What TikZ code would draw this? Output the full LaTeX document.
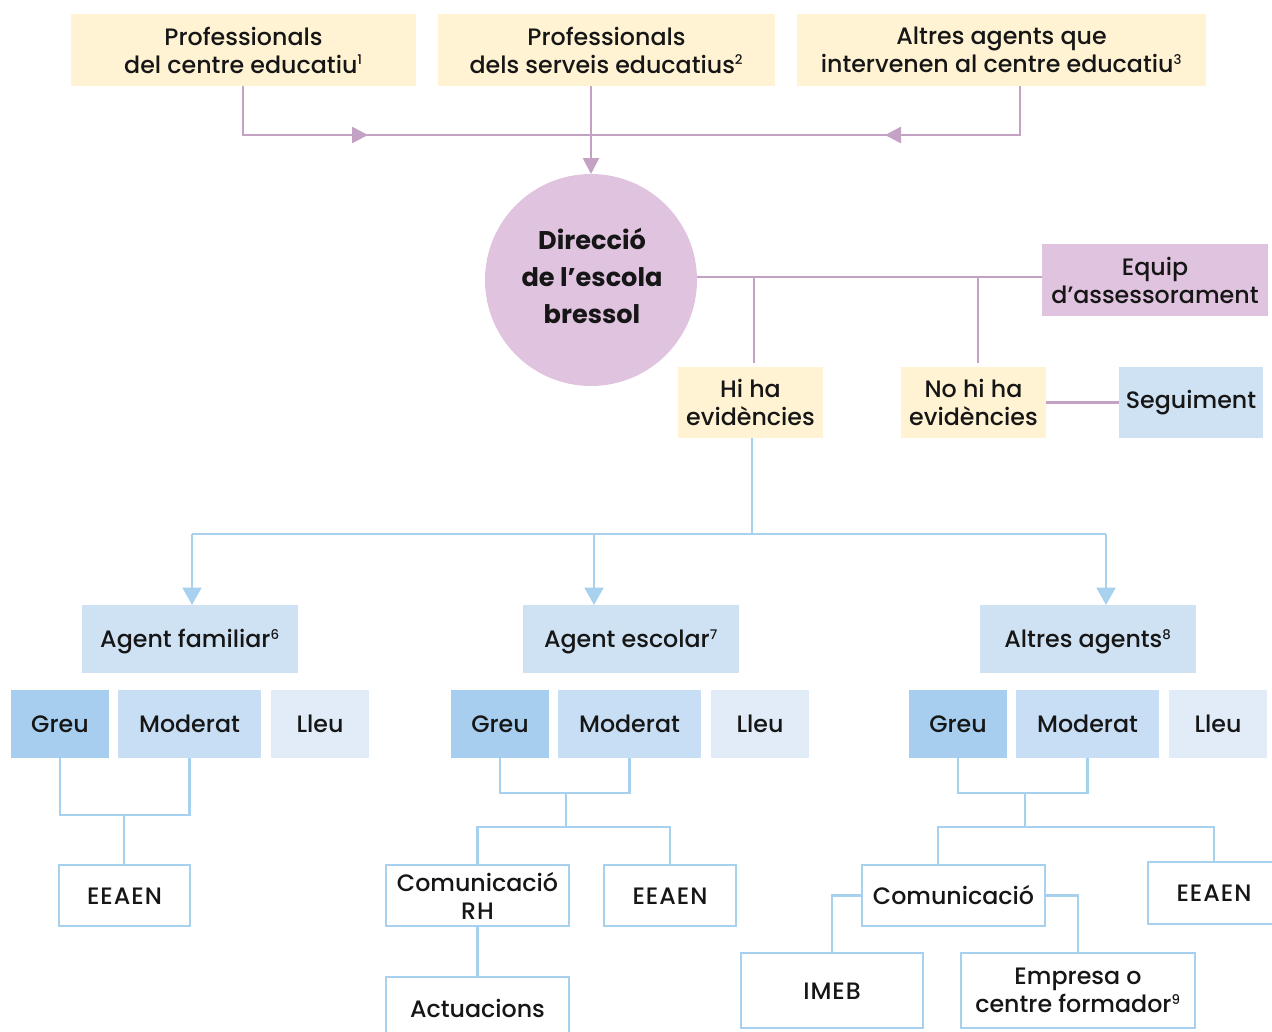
\documentclass[tikz,border=0pt]{standalone}
\usepackage{fontspec}
\setmainfont{Poppins}[UprightFont={* Medium}, BoldFont={* Bold}]
\usetikzlibrary{arrows.meta}
\definecolor{yel}{HTML}{FFF3D4}
\definecolor{lil}{HTML}{DFC3DF}
\definecolor{lilline}{HTML}{C4A2C3}
\definecolor{bl}{HTML}{CFE2F3}
\definecolor{bline}{HTML}{A8D0EF}
\definecolor{gr}{HTML}{A7CEEE}
\definecolor{md}{HTML}{C8DEF4}
\definecolor{lw}{HTML}{E1ECF8}
\definecolor{txt}{HTML}{161616}
\tikzset{
  bx/.style 2 args={minimum width=#1*0.75pt, minimum height=#2*0.75pt},
  base/.style={inner sep=0pt, outer sep=0pt, align=center, text=txt,
    font=\fontsize{17.8}{21}\selectfont},
  yelbox/.style={base, fill=yel},
  lilbox/.style={base, fill=lil},
  blbox/.style={base, fill=bl},
  greubox/.style={base, fill=gr},
  modbox/.style={base, fill=md},
  lleubox/.style={base, fill=lw},
  whbox/.style={base, fill=white, draw=bline, line width=1.9pt},
  lline/.style={draw=lilline, line width=2pt},
  bwire/.style={draw=bline, line width=1.9pt},
  ltip/.style={-{Triangle[length=12pt,width=12pt]}},
}
\newcommand{\supr}[1]{\textsuperscript{\fontsize{10}{10}\selectfont #1}}
\newcommand{\low}[1]{\smash{\raisebox{-6.6pt}{#1}}}
\newcommand{\wide}[1]{{\addfontfeature{LetterSpace=4}#1}}
\begin{document}
\begin{tikzpicture}[x=0.75pt,y=-0.75pt]
\useasboundingbox (0,0) rectangle (1272,1032);
% top boxes
\node[yelbox, bx={345}{72}] (p1) at (243.5,50) {Professionals\\del centre educatiu\supr{1}};
\node[yelbox, bx={337}{72}] (p2) at (606.5,50) {Professionals\\dels serveis educatius\supr{2}};
\node[yelbox, bx={409}{72}] (p3) at (1001.5,50) {Altres agents que\\intervenen al centre educatiu\supr{3}};
% circle
\node[base, circle, fill=lil, minimum size=212*0.75pt] (circ) at (591,280) {};
\node[base, font=\fontsize{19.2}{28}\selectfont\bfseries] (circt) at (592,276) {Direcció\\de l’escola\\bressol};
\node[lilbox, bx={226}{72}] (eq) at (1155,280) {Equip\\d’assessorament};
\node[yelbox, bx={145}{71}] (hi) at (750.5,402.5) {Hi ha\\evidències};
\node[yelbox, bx={145}{71}] (no) at (973.5,402.5) {No hi ha\\evidències};
\node[blbox, bx={144}{71}] (seg) at (1191,402.5) {Seguiment};
% agents
\node[blbox, bx={216}{68}] (af) at (190,639) {\low{Agent familiar\supr{6}}};
\node[blbox, bx={216}{68}] (ae) at (631,639) {\low{Agent escolar\supr{7}}};
\node[blbox, bx={216}{68}] (aa) at (1088,639) {\low{Altres agents\supr{8}}};
% severity
\node[greubox, bx={98}{68}] (g1) at (60,724) {\low{Greu}};
\node[modbox, bx={143}{68}] (m1) at (189.5,724) {\low{Moderat}};
\node[lleubox, bx={98}{68}] (l1) at (320,724) {\low{Lleu}};
\node[greubox, bx={98}{68}] (g2) at (500,724) {\low{Greu}};
\node[modbox, bx={143}{68}] (m2) at (629.5,724) {\low{Moderat}};
\node[lleubox, bx={98}{68}] (l2) at (760,724) {\low{Lleu}};
\node[greubox, bx={98}{68}] (g3) at (958,724) {\low{Greu}};
\node[modbox, bx={143}{68}] (m3) at (1087.5,724) {\low{Moderat}};
\node[lleubox, bx={98}{68}] (l3) at (1218,724) {\low{Lleu}};
% outcomes
\node[whbox, bx={131}{61}] (e1) at (124.5,895.5) {\low{\wide{EEAEN}}};
\node[whbox, bx={183}{61}] (c2) at (477.5,895.5) {Comunicació\\\wide{RH}};
\node[whbox, bx={132}{61}] (e2) at (670,895.5) {\low{\wide{EEAEN}}};
\node[whbox, bx={183}{63}] (act) at (477.5,1008.5) {\low{Actuacions}};
\node[whbox, bx={183}{61}] (c3) at (953.5,895.5) {\low{Comunicació}};
\node[whbox, bx={132}{62}] (e3) at (1214,893) {\low{\wide{EEAEN}}};
\node[whbox, bx={182}{75}] (imeb) at (832,990.5) {\low{\wide{IMEB}}};
\node[whbox, bx={234}{75}] (emp) at (1078,990.5) {Empresa o\\centre formador\supr{9}};
% top connectors
\coordinate (t1) at (243,135);
\coordinate (a1) at (368,135);
\coordinate (a3) at (885,135);
\coordinate (t3) at (1020,135);
\coordinate (x3) at (1020,0);
\draw[lline] (p1.south -| t1) -- (t1) -- (a1) -- (a3) -- (t3) -- (x3 |- p3.south);
\draw[lline, ltip] (t1) -- (a1);
\draw[lline, ltip] (t3) -- (a3);
\draw[lline, ltip] (circ |- p2.south) -- (circ.north);
% circle to equip and branches
\coordinate (h1) at (754,277);
\coordinate (h2) at (978,277);
\draw[lline] (circ.east |- h1) -- (eq.west |- h1);
\draw[lline, shorten >=3pt] (h1) -- (h1 |- hi.north);
\draw[lline, shorten >=3pt] (h2) -- (h2 |- no.north);
\draw[lline] (no.east) -- (seg.west);
% blue distribution
\coordinate (bj) at (752,534);
\coordinate (b1) at (192,534);
\coordinate (b2) at (594,534);
\coordinate (b3) at (1106,534);
\draw[bwire] (bj |- hi.south) -- (bj);
\draw[bwire] (b1) -- (b3);
\draw[bwire, -{Triangle[length=13pt,width=14pt]}] (b1) -- (b1 |- af.north);
\draw[bwire, -{Triangle[length=13pt,width=14pt]}] (b2) -- (b2 |- ae.north);
\draw[bwire, -{Triangle[length=13pt,width=14pt]}] (b3) -- (b3 |- aa.north);
% group 1
\coordinate (j1) at (124,815);
\draw[bwire] (g1.south) |- (j1) -| (m1.south);
\draw[bwire] (j1) -- (j1 |- e1.north);
% group 2
\coordinate (j2) at (566,793);
\coordinate (k2) at (566,827);
\draw[bwire] (g2.south) |- (j2) -| (m2.south);
\draw[bwire] (j2) -- (k2);
\draw[bwire] (c2.north) |- (k2) -| (e2.north);
\draw[bwire] (c2.south) -- (act.north);
% group 3
\coordinate (j3) at (1025,793);
\coordinate (k3) at (1025,827);
\coordinate (lx3) at (938,0);
\draw[bwire] (g3.south) |- (j3) -| (m3.south);
\draw[bwire] (j3) -- (k3);
\draw[bwire] (lx3 |- c3.north) |- (k3) -| (e3.north);
\draw[bwire] (c3.west) -| (imeb.north);
\draw[bwire] (c3.east) -| (emp.north);
\end{tikzpicture}
\end{document}
